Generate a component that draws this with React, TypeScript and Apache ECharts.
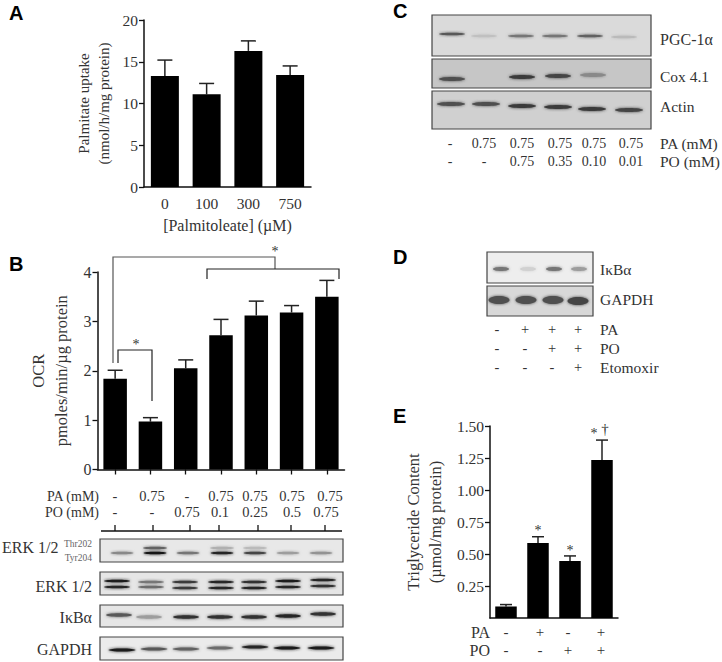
import React, { useEffect, useRef } from "react";
import * as echarts from "echarts";

const SERIF = "Liberation Serif";
const SANS = "Liberation Sans";
const INK = "#333333";

// ---- Data ----
const aCategories = ["0", "100", "300", "750"];
const aValues = [13.3, 11.1, 16.3, 13.4];
const aUpper = [15.2, 12.4, 17.5, 14.5];

const bCategories = ["c1", "c2", "c3", "c4", "c5", "c6", "c7"];
const bValues = [1.84, 0.97, 2.05, 2.72, 3.12, 3.18, 3.5];
const bUpper = [2.01, 1.05, 2.22, 3.04, 3.41, 3.32, 3.83];
const bPA = ["-", "0.75", "-", "0.75", "0.75", "0.75", "0.75"];
const bPO = ["-", "-", "0.75", "0.1", "0.25", "0.5", "0.75"];

const eCategories = ["e1", "e2", "e3", "e4"];
const eValues = [0.09, 0.585, 0.445, 1.235];
const eUpper = [0.105, 0.635, 0.485, 1.39];
const ePA = ["-", "+", "-", "+"];
const ePO = ["-", "-", "+", "+"];

const cPA = ["-", "0.75", "0.75", "0.75", "0.75", "0.75"];
const cPO = ["-", "-", "0.75", "0.35", "0.10", "0.01"];
const dPA = ["-", "+", "+", "+"];
const dPO = ["-", "-", "+", "+"];
const dEto = ["-", "-", "-", "+"];

// band darkness per lane (0 = none, 1 = black)
const erkPhospho = [0.4, 1, 0.5, 0.9, 0.75, 0.3, 0.35];
const erkUpper = [0.95, 0.5, 0.8, 0.9, 0.85, 0.95, 0.9];
const erkLower = [0.9, 0.55, 0.8, 0.9, 0.9, 0.9, 0.85];
const ikbB = [0.65, 0.3, 0.85, 0.85, 0.85, 0.9, 0.85];
const gapdhB = [0.95, 0.65, 0.6, 0.55, 0.9, 0.95, 0.95];
const pgc = [0.65, 0.12, 0.5, 0.5, 0.6, 0.15];
const cox = [0.7, 0, 0.8, 0.75, 0.4, 0];
const actinC = [0.7, 0.7, 0.8, 0.8, 0.8, 0.75];
const ikbD = [0.5, 0.03, 0.5, 0.3];
const gapdhD = [0.7, 0.7, 0.7, 0.75];

const errorSeries = (gridIndex: number, upper: number[], cap: number) => ({
  type: "custom",
  xAxisIndex: gridIndex,
  yAxisIndex: gridIndex,
  silent: true,
  data: upper.map((u, i) => [i, u, i]),
  renderItem: (_: any, api: any) => {
    const idx = api.value(2);
    const values = [aValues, bValues, eValues][gridIndex];
    const top = api.coord([api.value(0), api.value(1)]);
    const base = api.coord([api.value(0), values[idx]]);
    const st = { stroke: "#222", lineWidth: 1.5, fill: "none" };
    return {
      type: "group",
      children: [
        { type: "line", shape: { x1: top[0], y1: top[1], x2: base[0], y2: base[1] }, style: st },
        { type: "line", shape: { x1: top[0] - cap / 2, y1: top[1], x2: top[0] + cap / 2, y2: top[1] }, style: st },
      ],
    };
  },
});

const txt = (text: string, x: number, y: number, size = 14.5, align = "center", fill = INK, family = SERIF, weight = "normal") => ({
  type: "text",
  x,
  y,
  silent: true,
  style: { text, fontSize: size, fontFamily: family, fontWeight: weight, fill, align, verticalAlign: "middle" },
});

const line = (x1: number, y1: number, x2: number, y2: number, stroke = "#222", lineWidth = 1.3) => ({
  type: "line",
  silent: true,
  shape: { x1, y1, x2, y2 },
  style: { stroke, lineWidth },
});

const tone = (v: number) => {
  const c = Math.round(215 - 195 * v);
  return `rgb(${c},${c},${c})`;
};

const bands = (xs: number[], ys: number | number[], vals: number[], w: number, h: number) =>
  vals
    .map((v, i) =>
      v <= 0
        ? null
        : {
            type: "ellipse",
            silent: true,
            shape: { cx: xs[i], cy: Array.isArray(ys) ? ys[i] : ys, rx: w / 2, ry: h / 2 },
            style: { fill: tone(v), shadowBlur: 3, shadowColor: tone(v) },
          }
    )
    .filter(Boolean);

const blot = (x1: number, y1: number, x2: number, y2: number, bg: string) => ({
  type: "rect",
  silent: true,
  shape: { x: x1, y: y1, width: x2 - x1, height: y2 - y1 },
  style: { fill: bg, stroke: "#444", lineWidth: 1.2 },
});

const panelLetter = (t: string, x: number, y: number) => txt(t, x, y, 20, "left", "#000", SANS, "bold");

const bracket = (pts: number[][], stroke = "#222") => ({
  type: "polyline",
  silent: true,
  shape: { points: pts },
  style: { stroke, lineWidth: 1.2, fill: "none" },
});

const row = (vals: string[], xs: number[], y: number, size = 14.5, fill = INK) => vals.map((v, i) => txt(v, xs[i], y, size, "center", fill));

function buildGraphics() {
  const g: any[] = [];
  g.push(panelLetter("A", 9, 13), panelLetter("B", 9, 264), panelLetter("C", 393, 11), panelLetter("D", 393, 257), panelLetter("E", 393, 416));

  // B brackets
  g.push(
    bracket([[113, 363], [113, 257], [275, 257], [275, 269]], "#555"),
    bracket([[207, 279], [207, 269], [339, 269], [339, 279]]),
    bracket([[118, 363], [118, 350], [152, 350], [152, 401]]),
    txt("*", 275, 251, 14),
    txt("*", 136, 344, 14)
  );

  // B table
  const bPaX = [115, 152, 187, 221, 255, 292, 330];
  const bPoX = [115, 152, 187, 220, 255, 292, 326];
  g.push(txt("PA (mM)", 99, 496, 14, "right"), txt("PO (mM)", 99, 512, 14, "right"));
  g.push(...row(bPA, bPaX, 496), ...row(bPO, bPoX, 512));
  g.push(line(101, 531, 342, 531, "#111", 1.5));
  [115, 153, 190, 219, 258, 291, 325].forEach((x) => g.push(line(x, 525, x, 531, "#111", 1.3)));

  // B blots
  g.push(blot(100, 539, 343, 562, "#e8e8e8"));
  const pX = [122, 155, 188, 222, 255, 288, 321];
  g.push(...bands(pX, 548, [0, 0.6, 0, 0.2, 0.15, 0, 0], 24, 2.5));
  g.push(...bands(pX, 553, erkPhospho, 23, 2.5));
  g.push(blot(100, 572, 343, 595, "#e6e6e6"));
  const eX = [117, 151, 185, 221, 254, 288, 323];
  g.push(...bands(eX, [581, 582, 582, 582, 582, 581, 580], erkUpper, 26, 2.5));
  g.push(...bands(eX, [587, 587, 588, 588, 588, 587, 586], erkLower, 26, 2.5));
  g.push(blot(100, 605, 343, 627, "#e6e6e6"));
  g.push(...bands([119, 149, 186, 220, 254, 288, 323], [615, 617, 617, 617, 617, 616, 614], ikbB, 26, 3.5));
  g.push(blot(100, 637, 343, 660, "#ebebeb"));
  g.push(...bands([122, 154, 186, 220, 255, 287, 321], [650, 649, 649, 648, 647, 648, 648], gapdhB, 27, 3));
  g.push(txt("ERK 1/2", 2, 547, 16, "left"), txt("Thr202", 92, 544, 9.5, "right", "#666"), txt("Tyr204", 92, 558, 9.5, "right", "#666"));
  g.push(txt("ERK 1/2", 92, 586, 16, "right"), txt("IκBα", 92, 617, 16, "right"), txt("GAPDH", 92, 649, 16, "right"));

  // C blots
  g.push(blot(432, 15, 651, 56, "#dadada"));
  g.push(...bands([452, 484, 521, 555, 590, 624], [34, 36, 36, 36, 36, 37], pgc, 26, 2.5));
  g.push(blot(432, 59, 651, 88, "#c6c6c6"));
  g.push(...bands([452, 486, 522, 558, 593, 628], [79, 79, 77, 76, 75, 75], cox, 26, 4));
  g.push(blot(432, 91, 651, 129, "#d0d0d0"));
  g.push(...bands([451, 486, 522, 558, 592, 629], [104, 104, 106, 107, 109, 110], actinC, 28, 4));
  g.push(txt("PGC-1α", 660, 39, 16, "left"), txt("Cox 4.1", 660, 76, 15.5, "left"), txt("Actin", 660, 106, 15.5, "left"));
  const cX = [450, 484, 522, 560, 594, 631];
  g.push(...row(cPA, cX, 143, 14), ...row(cPO, cX, 161, 14));
  g.push(txt("PA (mM)", 660, 143, 15.5, "left"), txt("PO (mM)", 660, 161, 15.5, "left"));

  // D blots
  g.push(blot(487, 252, 593, 283, "#eeeeee"));
  g.push(...bands([501, 528, 554, 579], 269, ikbD, 16, 4));
  g.push(blot(487, 286, 593, 316, "#d8d8d8"));
  g.push(...bands([499, 526, 553, 578], [300, 300, 300, 301], gapdhD, 21, 8));
  g.push(txt("IκBα", 600, 269, 15.5, "left"), txt("GAPDH", 600, 299, 15.5, "left"));
  const dX = [497, 525, 552, 578];
  g.push(...row(dPA, dX, 329), ...row(dPO, dX, 348), ...row(dEto, dX, 367));
  g.push(txt("PA", 600, 329, 15.5, "left"), txt("PO", 600, 348, 15.5, "left"), txt("Etomoxir", 600, 367, 15.5, "left"));

  // E annotations
  g.push(txt("*", 538, 530, 14), txt("*", 570, 550, 14), txt("*", 594, 433, 14), txt("†", 605, 429, 15));
  g.push(txt("PA", 490, 632, 16, "right"), txt("PO", 490, 650, 16, "right"));
  const eXa = [506, 540, 568, 601];
  g.push(...row(ePA, eXa, 632, 15), ...row(ePO, eXa, 650, 15));
  return g;
}

const axisText = { fontFamily: SERIF, fontSize: 15.5, color: INK };
const axisLine = { show: true, lineStyle: { color: "#111", width: 1.5 } };

export default function App() {
  const ref = useRef<HTMLDivElement>(null);
  useEffect(() => {
    const chart = echarts.init(ref.current!, null, { renderer: "svg", width: 722, height: 662 });
    chart.setOption({
      animation: false,
      backgroundColor: "#fff",
      grid: [
        { left: 144, top: 20, width: 167, height: 167 },
        { left: 97.5, top: 272, width: 247, height: 197.5 },
        { left: 490, top: 426, width: 128, height: 192 },
      ],
      xAxis: [
        {
          gridIndex: 0,
          type: "category",
          data: aCategories,
          axisLine,
          axisTick: { show: false },
          axisLabel: { ...axisText, margin: 8 },
          name: "[Palmitoleate] (µM)",
          nameLocation: "middle",
          nameGap: 30,
          nameTextStyle: { ...axisText, fontSize: 16 },
        },
        {
          gridIndex: 1,
          type: "category",
          data: bCategories,
          axisLine,
          axisTick: { show: true, alignWithLabel: true, length: 5, lineStyle: { color: "#111", width: 1.3 } },
          axisLabel: { show: false },
        },
        {
          gridIndex: 2,
          type: "category",
          data: eCategories,
          axisLine,
          axisTick: { show: false },
          axisLabel: { show: false },
        },
      ],
      yAxis: [
        {
          gridIndex: 0,
          type: "value",
          min: 0,
          max: 20,
          interval: 5,
          axisLine,
          axisTick: { show: true, length: 5, lineStyle: { color: "#111", width: 1.3 } },
          axisLabel: { ...axisText, margin: 6 },
          splitLine: { show: false },
          name: "Palmitate uptake\n(nmol/h/mg protein)",
          nameLocation: "middle",
          nameRotate: 90,
          nameGap: 30,
          nameTextStyle: { ...axisText, fontSize: 15, lineHeight: 20 },
        },
        {
          gridIndex: 1,
          type: "value",
          min: 0,
          max: 4,
          interval: 1,
          axisLine,
          axisTick: { show: true, length: 5, lineStyle: { color: "#111", width: 1.3 } },
          axisLabel: { ...axisText, fontSize: 16, margin: 6 },
          splitLine: { show: false },
          name: "OCR\npmoles/min/µg protein",
          nameLocation: "middle",
          nameRotate: 90,
          nameGap: 25,
          nameTextStyle: { ...axisText, fontSize: 16.5, lineHeight: 23 },
        },
        {
          gridIndex: 2,
          type: "value",
          min: 0,
          max: 1.5,
          interval: 0.25,
          axisLine,
          axisTick: { show: true, length: 5, customValues: [0.25, 0.5, 0.75, 1, 1.25, 1.5], lineStyle: { color: "#111", width: 1.3 } },
          axisLabel: { ...axisText, margin: 6, showMinLabel: false, formatter: (v: number) => v.toFixed(2) },
          splitLine: { show: false },
          name: "Triglyceride Content\n(µmol/mg protein)",
          nameLocation: "middle",
          nameRotate: 90,
          nameGap: 44,
          nameTextStyle: { ...axisText, fontSize: 16.5, lineHeight: 22 },
        },
      ],
      series: [
        { type: "bar", xAxisIndex: 0, yAxisIndex: 0, data: aValues, barWidth: 28, itemStyle: { color: "#000" } },
        errorSeries(0, aUpper, 15),
        { type: "bar", xAxisIndex: 1, yAxisIndex: 1, data: bValues, barWidth: 23.5, itemStyle: { color: "#000" } },
        errorSeries(1, bUpper, 15),
        { type: "bar", xAxisIndex: 2, yAxisIndex: 2, data: eValues, barWidth: 21.5, itemStyle: { color: "#000" } },
        errorSeries(2, eUpper, 12),
      ],
      graphic: { elements: buildGraphics() },
    });
    return () => chart.dispose();
  }, []);
  return <div ref={ref} style={{ position: "absolute", left: 0, top: 0, width: 722, height: 662 }} />;
}
